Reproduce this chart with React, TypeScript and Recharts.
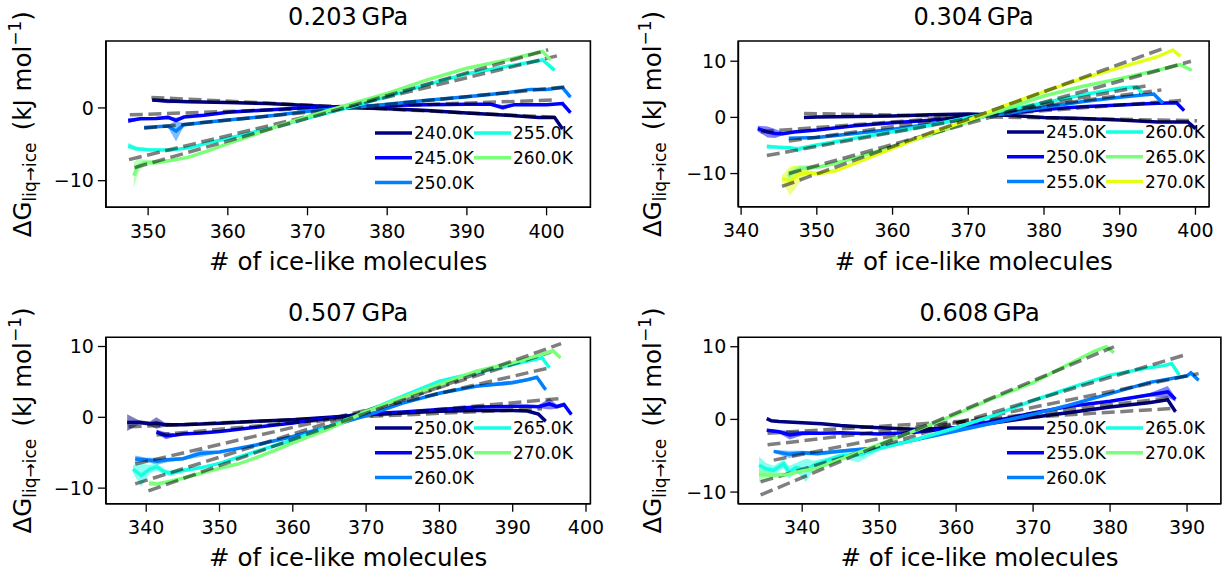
import React from 'react';
import { ComposedChart, Line, Area, XAxis, YAxis, ReferenceArea } from 'recharts';

// jet colormap at 0, 1/8, 2/8 ... used for the temperature series
const colors = ['#000080', '#0000ff', '#0080ff', '#15ffe2', '#7bff7b', '#e2ff15'];

// ---------- 0.203 GPa ----------
const temps203 = ['240.0K', '245.0K', '250.0K', '255.0K', '260.0K'];
const x203_240 = [350.5, 352.4, 355, 360, 365, 370, 375, 380, 385, 390, 395, 399, 401, 402];
const y203_240 = [1.1, 0.95, 0.85, 0.75, 0.6, 0.35, 0.05, -0.1, -0.35, -0.7, -1.0, -1.3, -1.3, -2.9];
const e203_240 = [0.15, 0.3, 0.15, 0.15, 0.15, 0.15, 0.15, 0.15, 0.15, 0.15, 0.15, 0.15, 0.2, 0.3];
const x203_245 = [347.5, 349, 351, 352.5, 353.5, 354.5, 357, 360, 363, 366, 370, 375, 380, 385, 390, 393, 394.5, 396, 400, 402, 403];
const y203_245 = [-1.75, -1.5, -1.45, -1.3, -1.7, -1.25, -1.0, -0.6, -0.4, -0.2, 0.05, 0.2, 0.35, 0.45, 0.5, 0.5, 0.05, 0.45, 0.45, 0.6, -0.65];
const e203_245 = [0.35, 0.15, 0.15, 0.15, 0.35, 0.15, 0.15, 0.15, 0.15, 0.15, 0.15, 0.15, 0.15, 0.15, 0.15, 0.15, 0.35, 0.15, 0.15, 0.15, 0.2];
const x203_250 = [349.5, 351, 352.5, 353.5, 354.5, 357, 360, 363, 366, 370, 375, 380, 385, 390, 395, 398, 400, 402, 403];
const y203_250 = [-2.7, -2.6, -2.5, -3.2, -2.3, -2.0, -1.65, -1.35, -1.0, -0.45, 0.0, 0.5, 1.05, 1.55, 2.1, 2.55, 2.55, 2.8, 1.5];
const e203_250 = [0.15, 0.15, 0.2, 1.4, 0.2, 0.15, 0.15, 0.15, 0.15, 0.15, 0.15, 0.15, 0.15, 0.15, 0.15, 0.15, 0.2, 0.2, 0.2];
const x203_255 = [347.5, 348.5, 350, 352.8, 355.3, 357.5, 360, 363, 366, 370, 375, 380, 385, 390, 395, 398, 399.5, 401];
const y203_255 = [-5.2, -5.6, -5.75, -5.8, -5.45, -4.8, -4.2, -3.4, -2.6, -1.4, 0.0, 1.55, 3.2, 4.7, 5.7, 6.3, 6.6, 5.2];
const e203_255 = [0.4, 0.3, 0.2, 0.15, 0.15, 0.15, 0.15, 0.15, 0.15, 0.15, 0.15, 0.15, 0.15, 0.15, 0.15, 0.15, 0.2, 0.2];
const x203_260 = [348.2, 348.7, 349.5, 351, 353, 355, 357.5, 360, 363, 366, 370, 375, 380, 385, 390, 395, 399.5, 400.5];
const y203_260 = [-9.3, -8.0, -7.5, -7.5, -7.2, -6.8, -5.9, -4.9, -3.8, -2.6, -1.2, 0.4, 2.0, 3.85, 5.45, 6.6, 7.75, 6.6];
const e203_260 = [1.8, 1.0, 0.4, 0.3, 0.2, 0.15, 0.15, 0.15, 0.15, 0.15, 0.15, 0.15, 0.15, 0.15, 0.15, 0.15, 0.2, 0.2];
// linear fits: [x start, y start, x end, y end]
const fit203 = [
  [350.4, 1.45, 401.3, -1.3],
  [347.7, -0.95, 401.3, 1.1],
  [349.5, -2.8, 402.5, 2.9],
  [347.6, -7.1, 401.3, 7.15],
  [348.3, -8.2, 400.2, 8.0],
];

// ---------- 0.304 GPa ----------
const temps304 = ['245.0K', '250.0K', '255.0K', '260.0K', '265.0K', '270.0K'];
const x304_245 = [348.3, 350, 355, 360, 365, 370, 375, 380, 385, 390, 395, 399, 400];
const y304_245 = [0.0, 0.05, 0.15, 0.25, 0.45, 0.6, 0.4, 0.0, -0.2, -0.45, -0.8, -0.8, -2.0];
const e304_245 = [0.15, 0.15, 0.15, 0.15, 0.15, 0.15, 0.15, 0.15, 0.15, 0.15, 0.15, 0.15, 0.2];
const x304_250 = [342.2, 343.5, 344.5, 345.5, 347, 350, 355, 360, 365, 370, 375, 380, 385, 390, 395, 397.5, 398.5];
const y304_250 = [-2.0, -2.6, -2.85, -2.9, -2.6, -2.25, -1.5, -0.95, -0.5, 0.1, 0.7, 1.4, 1.9, 2.2, 2.5, 2.6, 1.2];
const e304_250 = [0.5, 1.0, 0.8, 0.3, 0.2, 0.15, 0.15, 0.15, 0.15, 0.15, 0.15, 0.15, 0.15, 0.15, 0.15, 0.2, 0.2];
const x304_255 = [346.3, 350, 355, 360, 365, 370, 375, 380, 385, 390, 393, 394.5, 395.7];
const y304_255 = [-3.7, -3.6, -2.85, -2.1, -1.2, -0.2, 0.7, 1.8, 2.8, 3.6, 4.0, 4.15, 2.5];
const e304_255 = [0.2, 0.15, 0.15, 0.15, 0.15, 0.15, 0.15, 0.15, 0.15, 0.15, 0.15, 0.2, 0.2];
const x304_260 = [343.4, 345, 346.5, 347.5, 348.5, 350, 355, 360, 365, 370, 375, 380, 385, 390, 392.2, 393];
const y304_260 = [-5.2, -5.3, -5.4, -5.7, -5.3, -4.9, -3.7, -2.55, -1.4, 0.0, 1.3, 2.6, 4.0, 5.2, 5.5, 4.3];
const e304_260 = [0.4, 0.2, 0.2, 0.5, 0.2, 0.15, 0.15, 0.15, 0.15, 0.15, 0.15, 0.15, 0.15, 0.15, 0.2, 0.2];
const x304_265 = [346.2, 347, 347.8, 350.4, 352, 354.8, 360, 365, 370, 375, 380, 385, 390, 395, 398, 399.5];
const y304_265 = [-10.5, -9.6, -9.1, -8.8, -8.3, -7.3, -5.2, -3.1, -0.8, 1.6, 3.8, 5.5, 6.9, 8.4, 9.4, 8.4];
const e304_265 = [1.0, 0.9, 0.6, 0.3, 0.2, 0.15, 0.15, 0.15, 0.15, 0.15, 0.15, 0.15, 0.15, 0.15, 0.2, 0.2];
const x304_270 = [345.4, 346.5, 347.6, 348.5, 350.4, 352.4, 353.5, 355, 360, 365, 370, 375, 380, 385, 390, 395, 397, 398];
const y304_270 = [-10.9, -11.3, -10.2, -9.9, -10.0, -9.5, -9.0, -8.2, -5.5, -2.85, -0.5, 2.2, 4.6, 6.9, 8.85, 10.8, 12.0, 10.9];
const e304_270 = [0.6, 2.6, 1.6, 0.6, 0.3, 0.4, 0.2, 0.15, 0.15, 0.15, 0.15, 0.15, 0.15, 0.15, 0.15, 0.15, 0.2, 0.2];
const fit304 = [
  [348.3, 0.7, 400.2, -0.6],
  [342.6, -2.55, 398.1, 3.0],
  [346.3, -4.2, 395.5, 4.9],
  [343.4, -6.8, 393.4, 5.6],
  [346.3, -10.0, 399.4, 10.0],
  [345.4, -12.3, 396, 12.4],
];

// ---------- 0.507 GPa ----------
const temps507 = ['250.0K', '255.0K', '260.0K', '265.0K', '270.0K'];
const x507_250 = [337.4, 339, 340.5, 341.4, 342.5, 345, 350, 355, 360, 365, 370, 375, 380, 385, 390, 392, 393.5, 394.5];
const y507_250 = [-0.75, -0.7, -0.9, -0.8, -1.05, -1.05, -0.85, -0.57, -0.33, 0.0, 0.38, 0.6, 0.85, 0.95, 0.95, 0.9, 0.47, -0.57];
const e507_250 = [1.2, 0.3, 0.3, 0.8, 0.3, 0.15, 0.15, 0.15, 0.15, 0.15, 0.15, 0.15, 0.15, 0.15, 0.15, 0.15, 0.2, 0.2];
const x507_255 = [341.4, 342.7, 344, 345, 347.5, 350, 355, 360, 365, 370, 375, 380, 385, 390, 392, 393.5, 395, 396, 397, 398];
const y507_255 = [-2.05, -2.6, -2.5, -2.35, -2.2, -2.0, -1.4, -0.8, -0.1, 0.5, 0.75, 1.1, 1.45, 1.55, 1.55, 1.5, 1.9, 1.5, 1.8, 0.4];
const e507_255 = [0.3, 0.5, 0.2, 0.15, 0.15, 0.15, 0.15, 0.15, 0.15, 0.15, 0.15, 0.15, 0.15, 0.15, 0.15, 0.2, 0.8, 0.3, 0.3, 0.2];
const x507_260 = [338.5, 340, 341.5, 343, 345, 347.4, 350, 355, 360, 365, 370, 375, 380, 385, 390, 392, 393.3, 394.5];
const y507_260 = [-5.9, -6.0, -6.2, -6.0, -5.85, -5.1, -4.9, -3.9, -2.7, -1.3, 0.25, 2.0, 3.4, 4.4, 4.9, 5.3, 5.65, 3.9];
const e507_260 = [0.5, 0.3, 0.5, 0.3, 0.2, 0.5, 0.15, 0.15, 0.15, 0.15, 0.15, 0.15, 0.15, 0.15, 0.3, 0.2, 0.2, 0.2];
const x507_265 = [338.2, 339.3, 340.5, 341.4, 342.5, 343.3, 345, 347.5, 350, 355, 360, 365, 370, 375, 380, 385, 390, 394, 395];
const y507_265 = [-7.3, -8.2, -7.3, -7.0, -7.7, -7.9, -7.5, -7.1, -6.5, -4.8, -3.2, -1.3, 0.85, 3.0, 5.1, 6.3, 7.45, 8.4, 7.0];
const e507_265 = [0.6, 1.6, 0.6, 0.5, 0.4, 0.4, 0.3, 0.2, 0.15, 0.15, 0.15, 0.15, 0.15, 0.15, 0.15, 0.15, 0.15, 0.2, 0.2];
const x507_270 = [340.4, 341.5, 343, 345, 347.5, 350, 352.5, 355, 357.5, 360, 365, 370, 375, 380, 385, 390, 393, 395.5, 396.5];
const y507_270 = [-9.3, -9.4, -9.1, -8.6, -7.9, -7.2, -6.6, -5.7, -4.7, -3.6, -1.6, 0.8, 2.8, 4.6, 6.5, 7.7, 8.6, 9.4, 8.4];
const e507_270 = [0.4, 0.3, 0.2, 0.15, 0.15, 0.15, 0.15, 0.15, 0.15, 0.15, 0.15, 0.15, 0.15, 0.15, 0.15, 0.15, 0.15, 0.2, 0.2];
const fit507 = [
  [337.6, -1.35, 394, 1.2],
  [341.4, -2.5, 396.9, 2.7],
  [338.5, -6.6, 395, 7.0],
  [338.5, -9.4, 395.2, 9.2],
  [340.3, -10.4, 396.6, 10.4],
];

// ---------- 0.608 GPa ----------
const temps608 = ['250.0K', '255.0K', '260.0K', '265.0K', '270.0K'];
const x608_250 = [335.4, 336, 337, 340, 342.5, 345, 347.5, 350, 355, 360, 365, 370, 375, 380, 385, 387.5, 388.5];
const y608_250 = [0.1, -0.2, -0.3, -0.46, -0.6, -0.85, -1.0, -1.15, -1.4, -1.15, -0.46, 0.3, 1.0, 1.7, 2.3, 2.7, 1.06];
const e608_250 = [0.2, 0.15, 0.15, 0.15, 0.15, 0.15, 0.15, 0.15, 0.15, 0.15, 0.15, 0.15, 0.15, 0.15, 0.15, 0.2, 0.2];
const x608_255 = [335.4, 337, 338.4, 340, 342.5, 345, 350, 355, 360, 365, 370, 375, 380, 385, 387.5, 388.5];
const y608_255 = [-1.5, -1.7, -2.15, -1.9, -1.9, -1.84, -2.0, -1.75, -1.15, -0.23, 0.9, 1.84, 2.5, 3.35, 3.8, 2.76];
const e608_255 = [0.2, 0.2, 0.6, 0.3, 0.15, 0.15, 0.15, 0.15, 0.15, 0.15, 0.15, 0.15, 0.15, 0.2, 0.8, 0.3];
const x608_260 = [336.3, 338.3, 340, 342, 346.5, 350, 355, 360, 365, 370, 375, 380, 385, 390, 390.5, 391.5];
const y608_260 = [-4.4, -4.8, -4.6, -4.7, -4.2, -3.9, -2.75, -1.6, -0.46, 0.7, 2.07, 3.54, 5.06, 6.0, 6.4, 5.4];
const e608_260 = [0.2, 0.5, 0.3, 0.3, 0.2, 0.15, 0.15, 0.15, 0.15, 0.15, 0.15, 0.15, 0.15, 0.15, 0.2, 0.2];
const x608_265 = [334.4, 335.3, 336.3, 337.6, 338.3, 339.2, 340.5, 341.5, 343, 345, 347.3, 350, 355, 360, 365, 370, 375, 380, 385, 387, 388, 389];
const y608_265 = [-6.3, -6.8, -7.0, -6.1, -7.3, -6.6, -7.0, -6.3, -5.7, -5.0, -4.9, -4.0, -2.7, -1.15, 0.6, 2.6, 4.4, 6.1, 7.1, 7.4, 7.7, 6.1];
const e608_265 = [1.2, 0.8, 0.6, 0.6, 0.9, 0.6, 1.6, 0.6, 0.4, 0.3, 1.0, 0.3, 0.2, 0.15, 0.15, 0.15, 0.15, 0.15, 0.15, 0.15, 0.2, 0.2];
const x608_270 = [334.4, 336, 338, 340, 342, 345, 350, 355, 360, 365, 370, 375, 378, 379.5, 380.5];
const y608_270 = [-7.6, -7.7, -7.6, -7.1, -6.7, -5.5, -3.45, -1.4, 0.7, 3.0, 5.06, 7.8, 9.4, 10.0, 9.2];
const e608_270 = [1.0, 0.4, 0.3, 0.2, 0.15, 0.15, 0.15, 0.15, 0.15, 0.15, 0.15, 0.15, 0.15, 0.2, 0.2];
const fit608 = [
  [335.5, -1.9, 388, 1.5],
  [335.5, -3.5, 388, 3.0],
  [336.3, -5.6, 391.5, 6.3],
  [334.6, -8.6, 389.5, 8.8],
  [334.6, -10.4, 380.5, 10.0],
];

const FONT = 'DejaVu Sans, Verdana, sans-serif';

const mk = (xs: number[], ys: number[], es: number[]) =>
  xs.map((x, i) => ({ x, y: ys[i], band: [ys[i] - es[i], ys[i] + es[i]] }));
const fitLine = (f: number[]) => [
  { x: f[0], y: f[1] },
  { x: f[2], y: f[3] },
];
const minus = (v: number) => (v < 0 ? '\u2212' + Math.abs(v) : String(v));

const panels = [
  {
    title: '0.203\u2009GPa',
    temps: temps203,
    series: [
      mk(x203_240, y203_240, e203_240),
      mk(x203_245, y203_245, e203_245),
      mk(x203_250, y203_250, e203_250),
      mk(x203_255, y203_255, e203_255),
      mk(x203_260, y203_260, e203_260),
    ],
    fits: fit203,
    xDomain: [344.7, 405.5],
    xTicks: [350, 360, 370, 380, 390, 400],
    yDomain: [-13.66, 9.2],
    yTicks: [-10, 0],
    pos: { left: 0, top: 0, w: 612, h: 288 },
    margin: { top: 41, right: 21.6, bottom: 40.7, left: 45.9 },
    legend: { x: 375, y: 133 },
    ylab: { x: 31.4, y: 124.2 },
    title_y: 25,
    xlab_y: 270,
  },
  {
    title: '0.304\u2009GPa',
    temps: temps304,
    series: [
      mk(x304_245, y304_245, e304_245),
      mk(x304_250, y304_250, e304_250),
      mk(x304_255, y304_255, e304_255),
      mk(x304_260, y304_260, e304_260),
      mk(x304_265, y304_265, e304_265),
      mk(x304_270, y304_270, e304_270),
    ],
    fits: fit304,
    xDomain: [339.63, 401.8],
    xTicks: [340, 350, 360, 370, 380, 390, 400],
    yDomain: [-15.9, 13.6],
    yTicks: [-10, 0, 10],
    pos: { left: 612, top: 0, w: 613, h: 288 },
    margin: { top: 41, right: 15.9, bottom: 41.3, left: 66.3 },
    legend: { x: 1007, y: 132 },
    ylab: { x: 661, y: 123.9 },
    title_y: 25,
    xlab_y: 270,
  },
  {
    title: '0.507\u2009GPa',
    temps: temps507,
    series: [
      mk(x507_250, y507_250, e507_250),
      mk(x507_255, y507_255, e507_255),
      mk(x507_260, y507_260, e507_260),
      mk(x507_265, y507_265, e507_265),
      mk(x507_270, y507_270, e507_270),
    ],
    fits: fit507,
    xDomain: [334.5, 400.6],
    xTicks: [340, 350, 360, 370, 380, 390, 400],
    yDomain: [-12.2, 11.3],
    yTicks: [-10, 0, 10],
    pos: { left: 0, top: 288, w: 612, h: 289 },
    margin: { top: 49.3, right: 21.6, bottom: 33.3, left: 45.9 },
    legend: { x: 375, y: 428 },
    ylab: { x: 31.4, y: 420.5 },
    title_y: 321.3,
    xlab_y: 566,
  },
  {
    title: '0.608\u2009GPa',
    temps: temps608,
    series: [
      mk(x608_250, y608_250, e608_250),
      mk(x608_255, y608_255, e608_255),
      mk(x608_260, y608_260, e608_260),
      mk(x608_265, y608_265, e608_265),
      mk(x608_270, y608_270, e608_270),
    ],
    fits: fit608,
    xDomain: [331.7, 394.4],
    xTicks: [340, 350, 360, 370, 380, 390],
    yDomain: [-11.6, 11.3],
    yTicks: [-10, 0, 10],
    pos: { left: 612, top: 288, w: 613, h: 289 },
    margin: { top: 49.3, right: 4.1, bottom: 33.3, left: 66.3 },
    legend: { x: 1007, y: 428 },
    ylab: { x: 661, y: 420.5 },
    title_y: 321.3,
    xlab_y: 566,
  },
];

const tickStyle = { fill: '#000', fontSize: 19, fontFamily: FONT };
const spine = { stroke: '#000', strokeWidth: 1.6 };

function Panel({ p }: { p: (typeof panels)[number] }) {
  return (
    <div style={{ position: 'absolute', left: p.pos.left, top: p.pos.top }}>
      <ComposedChart width={p.pos.w} height={p.pos.h} margin={p.margin}>
        <XAxis
          type="number"
          dataKey="x"
          domain={p.xDomain}
          ticks={p.xTicks}
          allowDataOverflow
          height={40}
          tickSize={8}
          tickMargin={9}
          tick={tickStyle}
          axisLine={spine}
          tickLine={{ stroke: '#000', strokeWidth: 1.3 }}
        />
        <YAxis
          type="number"
          domain={p.yDomain}
          ticks={p.yTicks}
          allowDataOverflow
          width={60}
          tickSize={8}
          tickMargin={4}
          tick={tickStyle}
          tickFormatter={minus}
          axisLine={spine}
          tickLine={{ stroke: '#000', strokeWidth: 1.3 }}
        />
        {p.series.map((d, i) => (
          <Area
            key={'band' + i}
            data={d}
            dataKey="band"
            stroke="none"
            fill={colors[i]}
            fillOpacity={0.5}
            isAnimationActive={false}
          />
        ))}
        {p.series.map((d, i) => [
          <Line
            key={'line' + i}
            data={d}
            dataKey="y"
            stroke={colors[i]}
            strokeWidth={3.5}
            dot={false}
            isAnimationActive={false}
          />,
          <Line
            key={'fit' + i}
            data={fitLine(p.fits[i])}
            dataKey="y"
            stroke="#000"
            strokeOpacity={0.5}
            strokeWidth={3.5}
            strokeDasharray="13 5.6"
            dot={false}
            isAnimationActive={false}
          />,
        ])}
        <ReferenceArea
          x1={p.xDomain[0]}
          x2={p.xDomain[1]}
          y1={p.yDomain[0]}
          y2={p.yDomain[1]}
          fill="none"
          stroke="#000"
          strokeWidth={1.6}
          ifOverflow="visible"
        />
      </ComposedChart>
    </div>
  );
}

function Texts({ p }: { p: (typeof panels)[number] }) {
  const plotLeft = p.pos.left + p.margin.left + 60;
  const plotRight = p.pos.left + p.pos.w - p.margin.right;
  const cx = (plotLeft + plotRight) / 2;
  return (
    <g fontFamily={FONT} fill="#000">
      <text x={cx} y={p.title_y} fontSize={24} textAnchor="middle">
        {p.title}
      </text>
      <text x={cx} y={p.xlab_y} fontSize={24.5} textAnchor="middle">
        # of ice-like molecules
      </text>
      <text
        x={p.ylab.x}
        y={p.ylab.y}
        fontSize={24.5}
        textAnchor="middle"
        transform={`rotate(-90 ${p.ylab.x} ${p.ylab.y})`}
      >
        ΔG
        <tspan fontSize={17} dy={5}>
          liq→ice
        </tspan>
        <tspan fontSize={24.5} dy={-5}>
          {'\u2002(kJ mol'}
        </tspan>
        <tspan fontSize={17} dy={-10}>
          −1
        </tspan>
        <tspan fontSize={24.5} dy={10}>
          )
        </tspan>
      </text>
      {p.temps.map((t, i) => {
        const col = Math.floor(i / 3);
        const row = i % 3;
        const x0 = p.legend.x + col * 99;
        const y0 = p.legend.y + row * 24.7;
        return (
          <g key={t}>
            <line x1={x0} x2={x0 + 37} y1={y0} y2={y0} stroke={colors[i]} strokeWidth={3.5} />
            <text x={x0 + 39} y={y0} dy="0.36em" fontSize={17}>
              {t}
            </text>
          </g>
        );
      })}
    </g>
  );
}

export default function App() {
  return (
    <div
      style={{
        position: 'absolute',
        left: 0,
        top: 0,
        width: 1225,
        height: 577,
        background: '#fff',
        fontFamily: FONT,
      }}
    >
      {panels.map((p) => (
        <Panel key={p.title} p={p} />
      ))}
      <svg width={1225} height={577} style={{ position: 'absolute', left: 0, top: 0, pointerEvents: 'none' }}>
        {panels.map((p) => (
          <Texts key={p.title} p={p} />
        ))}
      </svg>
    </div>
  );
}
